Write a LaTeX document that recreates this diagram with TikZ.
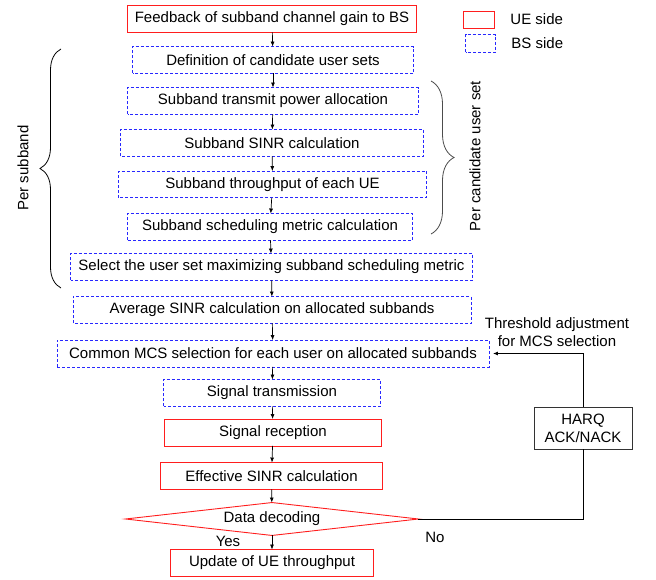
\documentclass[tikz,border=0pt]{standalone}
\usepackage{fontspec}
\setmainfont{Liberation Sans}
\usepackage{tikz}
\usetikzlibrary{shapes.geometric,arrows.meta,decorations.pathreplacing}

\definecolor{uered}{RGB}{255,30,30}
\definecolor{bsblue}{RGB}{40,40,255}

\begin{document}
\begin{tikzpicture}[x=1pt,y=-1pt,line width=0.9pt,
    font=\fontsize{15}{18}\selectfont,
    >={Latex[length=5pt,width=4pt]}]
% Box styles
\tikzset{
    step box/.style={minimum height=26pt, inner sep=0pt},
    ueframe/.style={draw=uered},
    bsframe/.style={draw=bsblue, dash pattern=on 3pt off 2pt},
    curly/.style={decorate, line width=0.8pt},
}
\useasboundingbox (0,0) rectangle (656,580);

% Legend
\node[step box, minimum width=30pt, minimum height=16pt] (legue) at (479,20) {};
\node[step box, minimum width=29pt, minimum height=17pt] (legbs) at (480.5,43.5) {};
\node[anchor=west, inner sep=0pt] (legueT) at (510,19) {UE side};
\node[anchor=west, inner sep=0pt] (legbsT) at (511,43) {BS side};

% Flow boxes
\node[step box, minimum width=288pt] (fb) at (272,19) {Feedback of subband channel gain to BS};
\node[step box, minimum width=280pt] (defn) at (273,60) {Definition of candidate user sets};
\node[step box, minimum width=290pt] (power) at (273,101) {Subband transmit power allocation};
\node[step box, minimum width=302pt] (sinr) at (272,143) {Subband SINR calculation};
\node[step box, minimum width=307pt] (thr) at (272.5,184.5) {Subband throughput of each UE};
\node[step box, minimum width=284pt] (metric) at (270,227) {Subband scheduling metric calculation};
\node[step box, minimum width=401pt] (sel) at (271.5,267) {Select the user set maximizing subband scheduling metric};
\node[step box, minimum width=397pt] (avg) at (272,310) {Average SINR calculation on allocated subbands};
\node[step box, minimum width=431pt] (mcs) at (273,353.5) {Common MCS selection for each user on allocated subbands};
\node[step box, minimum width=216pt] (tx) at (272,393) {Signal transmission};
\node[step box, minimum width=216pt] (rx) at (273,432.5) {Signal reception};
\node[step box, minimum width=221pt] (eff) at (271.5,476) {Effective SINR calculation};
\node[diamond, aspect=9, inner sep=0pt,
      minimum width=292pt, minimum height=32pt] (dec) at (272,519) {Data decoding};
\node[step box, minimum width=202pt] (upd) at (272,563) {Update of UE throughput};

% Frames: red = UE side, blue dashed = BS side
\foreach \n in {legue, fb, rx, eff, upd}
    \draw[ueframe] (\n.south west) rectangle (\n.north east);
\foreach \n in {legbs, defn, power, sinr, thr, metric, sel, avg, mcs, tx}
    \draw[bsframe] (\n.south west) rectangle (\n.north east);
\draw[ueframe] (dec.north) -- (dec.east) -- (dec.south) -- (dec.west) -- cycle;

% HARQ feedback
\node[draw=black!80, minimum width=98pt, minimum height=42pt, align=center,
      inner sep=0pt] (harq) at (583,428) {HARQ\\ACK/NACK};
\node[align=center, inner sep=0pt] (thresh) at (557,332) {Threshold adjustment\\for MCS selection};

% Arrows
\foreach \a/\b in {fb/defn, defn/power, power/sinr, sinr/thr, thr/metric,
    metric/sel, sel/avg, avg/mcs, mcs/tx, tx/rx, rx/eff, eff/dec, dec/upd}
    \draw[->, line width=0.7pt] (\a) -- (\b);
\draw[line width=0.8pt] (dec.east) -| (harq.south);
\draw[->, line width=0.8pt, shorten >=4pt] (harq.north) |- (mcs.east);

\node (yes) at (228,541) {Yes};
\node (no) at (435,537) {No};

% Braces
\draw[curly, decoration={brace, amplitude=21pt}] (61,288) -- (61,49);
\draw[curly, draw=black!70, decoration={brace, amplitude=23pt}] (431,81) -- (431,234);
\node[rotate=90] (persub) at (23,168) {Per subband};
\node[rotate=90] (percand) at (475,156) {Per candidate user set};
\end{tikzpicture}
\end{document}
